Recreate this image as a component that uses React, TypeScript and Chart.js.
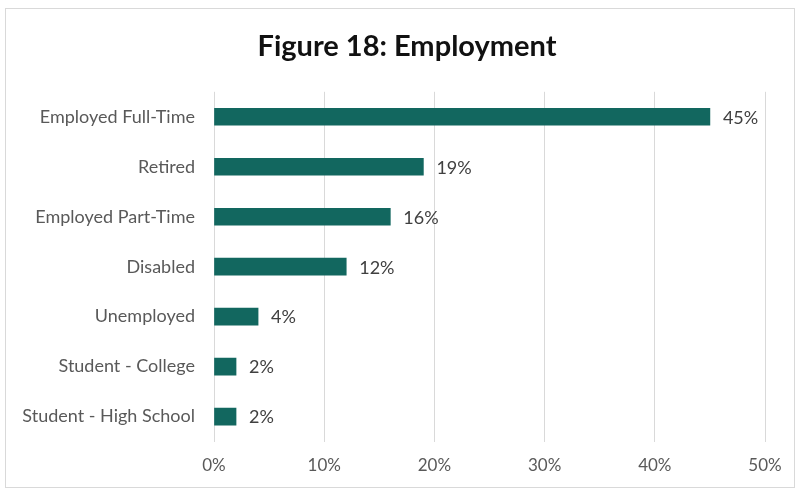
import React, { useEffect, useRef } from "react";
import { Chart, registerables } from "chart.js";

Chart.register(...registerables);

const categories = [
  "Employed Full-Time",
  "Retired",
  "Employed Part-Time",
  "Disabled",
  "Unemployed",
  "Student - College",
  "Student - High School",
];
const values = [45, 19, 16, 12, 4, 2, 2];
const xTicks = [0, 10, 20, 30, 40, 50];
const titleText = "Figure 18: Employment";

const BAR_COLOR = "#12675f";
const FONT = "Lato, 'Open Sans', sans-serif";

const valueLabels = {
  id: "valueLabels",
  afterDatasetsDraw(chart: any) {
    const ctx = chart.ctx;
    const meta = chart.getDatasetMeta(0);
    ctx.save();
    ctx.fillStyle = "#404040";
    ctx.font = `18px ${FONT}`;
    ctx.textAlign = "left";
    ctx.textBaseline = "middle";
    meta.data.forEach((bar: any, i: number) => {
      ctx.fillText(values[i] + "%", bar.x + 13, bar.y + 1);
    });
    ctx.restore();
  },
};

export default function App() {
  const ref = useRef<HTMLCanvasElement | null>(null);
  useEffect(() => {
    if (!ref.current) return;
    const chart = new Chart(ref.current, {
      type: "bar",
      data: {
        labels: categories,
        datasets: [
          {
            data: values,
            backgroundColor: BAR_COLOR,
            barThickness: 17,
          },
        ],
      },
      plugins: [valueLabels],
      options: {
        indexAxis: "y",
        animation: false,
        responsive: false,
        devicePixelRatio: 1,
        layout: { padding: { top: 8, bottom: 0, left: 15, right: 0 } },
        plugins: {
          legend: { display: false },
          tooltip: { enabled: false },
          title: {
            display: true,
            text: titleText,
            color: "#111",
            font: { family: FONT, size: 29, weight: "bold" },
            padding: { top: 21, bottom: 28 },
          },
        },
        scales: {
          x: {
            min: 0,
            max: 50,
            afterBuildTicks(axis: any) {
              axis.ticks = xTicks.map((v) => ({ value: v }));
            },
            afterFit(axis: any) {
              axis.paddingRight = 34;
            },
            ticks: {
              color: "#595959",
              font: { family: FONT, size: 17 },
              padding: 14,
              callback: (v: any) => v + "%",
            },
            grid: { color: "#d9d9d9", drawTicks: false },
            border: { display: false },
          },
          y: {
            afterFit(axis: any) {
              axis.width = 199;
            },
            ticks: {
              color: "#595959",
              font: { family: FONT, size: 18 },
              padding: 19,
            },
            grid: { display: false, drawTicks: false },
            border: { display: false },
          },
        },
      },
    } as any);
    return () => chart.destroy();
  }, []);
  return (
    <div style={{ position: "absolute", left: 0, top: 0, width: 799, height: 490, background: "#fff" }}>
      <div
        style={{
          position: "absolute",
          left: 5,
          top: 8,
          width: 790,
          height: 480,
          border: "1px solid #d9d9d9",
          boxSizing: "border-box",
        }}
      />
      <canvas ref={ref} width={799} height={490} style={{ position: "absolute", left: 0, top: 0 }} />
    </div>
  );
}
